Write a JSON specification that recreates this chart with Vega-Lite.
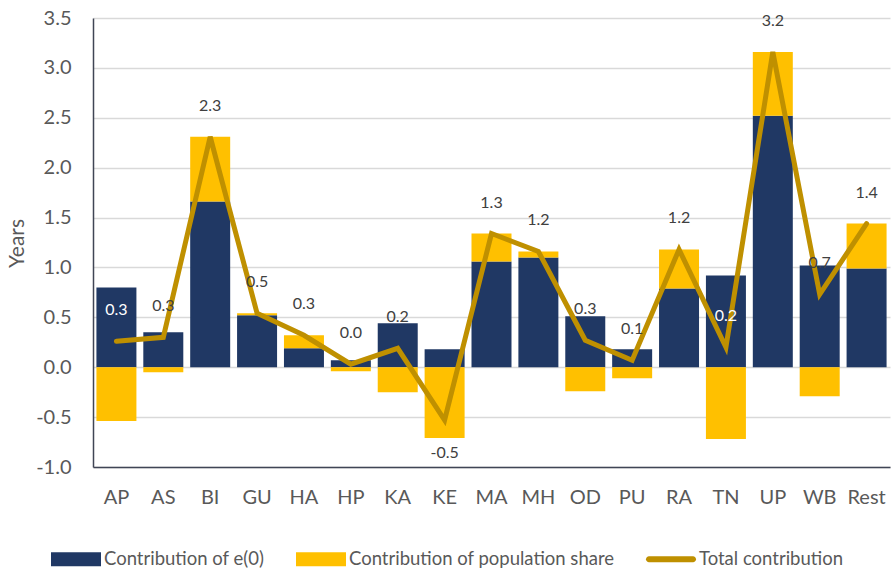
{
  "$schema": "https://vega.github.io/schema/vega-lite/v6.json",
  "autosize": "none",
  "width": 797,
  "height": 449,
  "padding": {"left": 93, "top": 18, "right": 2, "bottom": 105},
  "background": "white",
  "config": {
    "font": "Lato",
    "locale": {"number": {"decimal": ".", "thousands": ",", "grouping": [3], "currency": ["$", ""], "minus": "-"}},
    "view": {"stroke": null},
    "axis": {"labelFont": "Lato", "titleFont": "Lato", "labelColor": "#595959", "titleColor": "#595959", "titleFontWeight": "normal"}
  },
  "data": {
    "values": [
      {"State": "AP", "e0": 0.80, "pop": -0.54, "total": 0.26},
      {"State": "AS", "e0": 0.35, "pop": -0.05, "total": 0.30},
      {"State": "BI", "e0": 1.66, "pop": 0.65, "total": 2.31},
      {"State": "GU", "e0": 0.52, "pop": 0.02, "total": 0.54},
      {"State": "HA", "e0": 0.19, "pop": 0.13, "total": 0.32},
      {"State": "HP", "e0": 0.07, "pop": -0.04, "total": 0.03},
      {"State": "KA", "e0": 0.44, "pop": -0.25, "total": 0.19},
      {"State": "KE", "e0": 0.18, "pop": -0.71, "total": -0.53},
      {"State": "MA", "e0": 1.06, "pop": 0.28, "total": 1.34},
      {"State": "MH", "e0": 1.10, "pop": 0.06, "total": 1.16},
      {"State": "OD", "e0": 0.51, "pop": -0.24, "total": 0.27},
      {"State": "PU", "e0": 0.18, "pop": -0.11, "total": 0.07},
      {"State": "RA", "e0": 0.79, "pop": 0.39, "total": 1.18},
      {"State": "TN", "e0": 0.92, "pop": -0.72, "total": 0.20},
      {"State": "UP", "e0": 2.52, "pop": 0.64, "total": 3.16},
      {"State": "WB", "e0": 1.02, "pop": -0.29, "total": 0.73},
      {"State": "Rest", "e0": 0.99, "pop": 0.45, "total": 1.44}
    ]
  },
  "encoding": {
    "x": {
      "field": "State", "type": "nominal", "sort": null,
      "scale": {"paddingInner": 0.147, "paddingOuter": 0.073},
      "axis": {"title": null, "labelAngle": 0, "labelFontSize": 20, "labelPadding": 20, "ticks": false,
               "domainColor": "#404555", "domainWidth": 1.5, "grid": false}
    }
  },
  "layer": [
    {
      "transform": [
        {"fold": ["e0", "pop"], "as": ["key", "value"]},
        {"lookup": "key", "from": {"data": {"values": [
          {"key": "e0", "Series": "Contribution of e(0)"},
          {"key": "pop", "Series": "Contribution of population share"}
        ]}, "key": "key", "fields": ["Series"]}}
      ],
      "mark": {"type": "bar"},
      "encoding": {
        "y": {
          "field": "value", "type": "quantitative", "stack": "zero",
          "scale": {"domain": [-1, 3.5], "nice": false, "zero": false},
          "axis": {"title": "Years", "titleFontSize": 21, "titleAngle": -90, "titleX": -76, "titleY": 225,
                   "titleAlign": "center", "titleBaseline": "middle",
                   "values": [-1, -0.5, 0, 0.5, 1, 1.5, 2, 2.5, 3, 3.5], "format": ".1f",
                   "labelFontSize": 20, "labelPadding": 22, "ticks": false,
                   "domainColor": "#404555", "domainWidth": 1.5,
                   "gridColor": "#d9d9d9", "gridWidth": 1.5}
        },
        "order": {"field": "key", "sort": "ascending"},
        "color": {
          "field": "Series", "type": "nominal",
          "scale": {"domain": ["Contribution of e(0)", "Contribution of population share", "Total contribution"],
                    "range": ["#203864", "#FFC000", "#BF9000"]},
          "legend": {
            "title": null, "orient": "none", "direction": "horizontal",
            "legendX": -42, "legendY": 516,
            "labelFontSize": 18.5, "labelColor": "#595959", "labelFont": "Lato", "labelLimit": 400,
            "symbolSize": 2500, "labelOffset": 3, "columnPadding": 31,
            "symbolStrokeWidth": 0,
            "encode": {
              "symbols": {
                "update": {
                  "shape": {"signal": "datum.value === 'Total contribution' ? 'M-0.88,-0.12H0.88A0.12,0.12 0 0 1 0.88,0.12H-0.88A0.12,0.12 0 0 1 -0.88,-0.12Z' : 'M-1,-0.28H1V0.28H-1Z'"},
                  "strokeWidth": {"value": 0}
                }
              }
            }
          }
        }
      }
    },
    {
      "mark": {"type": "line", "color": "#BF9000", "strokeWidth": 5, "strokeCap": "round"},
      "encoding": {"y": {"field": "total", "type": "quantitative"}}
    },
    {
      "transform": [{"filter": "datum.total >= 0"}],
      "mark": {"type": "text", "dy": -31, "fontSize": 16, "font": "Lato", "baseline": "middle"},
      "encoding": {
        "y": {"field": "total", "type": "quantitative"},
        "text": {"field": "total", "type": "quantitative", "format": ".1f"},
        "color": {"condition": {"test": "datum.State === 'AP' || datum.State === 'TN'", "value": "#ffffff"}, "value": "#404040"}
      }
    },
    {
      "transform": [{"filter": "datum.total < 0"}],
      "mark": {"type": "text", "dy": 33, "fontSize": 16, "font": "Lato", "baseline": "middle", "color": "#404040"},
      "encoding": {
        "y": {"field": "total", "type": "quantitative"},
        "text": {"field": "total", "type": "quantitative", "format": ".1f"}
      }
    }
  ]
}
